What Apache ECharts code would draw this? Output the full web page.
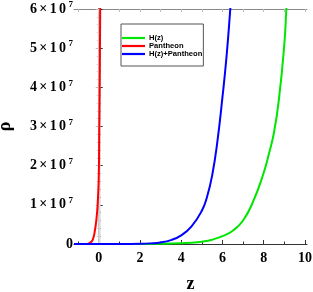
<!DOCTYPE html>
<html><head><meta charset="utf-8">
<script src="https://cdn.jsdelivr.net/npm/echarts@6/dist/echarts.min.js"></script>
<style>html,body{margin:0;padding:0;background:#fff}#c{width:313px;height:292px}</style>
</head><body><div id="c"></div>
<script>
// data (rho in units of 1e7)
var zGreen   = [-1.2, 2.0, 3.0, 4.0, 4.5, 5.0, 5.5, 6.0, 6.5, 7.0, 7.5, 8.0, 8.25, 8.5, 8.75, 9.0, 9.1, 9.25];
var rhoGreen = [0, 0.001, 0.005, 0.018, 0.033, 0.06, 0.11, 0.2, 0.34, 0.6, 1.1, 1.82, 2.3, 2.85, 3.75, 5.1, 6.0, 7.2];
var zRed     = [-1.2, -0.6, -0.5, -0.4, -0.3, -0.2, -0.1, -0.05, 0.0, 0.025, 0.05, 0.07, 0.09];
var rhoRed   = [0, 0, 0.01, 0.04, 0.1, 0.3, 0.7, 1.05, 1.7, 2.9, 4.3, 6.0, 7.6];
var zBlue    = [-1.2, 1.0, 2.0, 2.5, 3.0, 3.5, 4.0, 4.5, 5.0, 5.25, 5.5, 5.75, 6.0, 6.2, 6.38, 6.55];
var rhoBlue  = [0, 0.001, 0.006, 0.016, 0.04, 0.1, 0.22, 0.45, 0.85, 1.2, 1.75, 2.6, 3.75, 4.8, 6.0, 7.2];
var seriesNames = ['H(z)', 'Pantheon', 'H(z)+Pantheon'];
var refLineZ = 0.03;
var xMajorTicks = [0, 2, 4, 6, 8, 10];
var xMinorTicks = [-1, 1, 3, 5, 7, 9];

function pairs(xs, ys){ return xs.map(function(x,i){ return [x, ys[i]]; }); }

var labelRich = {
  d: {fontFamily:'Liberation Serif', fontWeight:'bold', fontSize:14, color:'#000', padding:[0,2.4,0,0]},
  x: {fontFamily:'Liberation Serif', fontWeight:'bold', fontSize:14, color:'#000', padding:[0,2.4,0,0]},
  s: {fontFamily:'Liberation Serif', fontWeight:'bold', fontSize:9, color:'#000', padding:[0,0,8,0]},
  z: {fontFamily:'Liberation Serif', fontWeight:'bold', fontSize:14, color:'#000'}
};

var chart = echarts.init(document.getElementById('c'));
var frameDark = '#333', frameLight = '#888';
chart.setOption({
  animation: false,
  grid: {left:74, right:6, top:9, bottom:48, containLabel:false, outerBoundsMode:'none'},
  legend: {
    data: seriesNames, orient:'vertical', left:121, top:24,
    padding:[10,1,8,1], itemGap:0, itemWidth:23, itemHeight:2.2, icon:'rect',
    borderColor:'#555', borderWidth:1, backgroundColor:'#fff',
    textStyle:{fontFamily:'Liberation Sans', fontWeight:'bold', fontSize:7.6, lineHeight:7.8, color:'#000', padding:[0,0,0,-1]}
  },
  xAxis: [
    {type:'value', min:-1.2, max:10.1, position:'bottom',
     axisLine:{show:true, lineStyle:{color:frameDark, width:1}},
     axisTick:{show:true, inside:true, length:4, customValues:xMajorTicks, lineStyle:{color:frameDark}},
     axisLabel:{show:true, customValues:xMajorTicks, margin:7, fontFamily:'Liberation Serif', fontWeight:'bold', fontSize:14, color:'#000'},
     splitLine:{show:false},
     name:'z', nameLocation:'middle', nameGap:31,
     nameTextStyle:{fontFamily:'Liberation Serif', fontWeight:'bold', fontSize:18, color:'#000'}},
    {type:'value', min:-1.2, max:10.1, position:'bottom', gridIndex:0,
     axisLine:{show:false}, axisLabel:{show:false}, splitLine:{show:false},
     axisTick:{show:true, inside:true, length:2.5, customValues:xMinorTicks, lineStyle:{color:frameDark}}},
    {type:'value', min:-1.2, max:10.1, position:'top',
     axisLine:{show:true, lineStyle:{color:frameLight, width:1}},
     axisTick:{show:true, inside:true, length:3, customValues:xMajorTicks.concat(xMinorTicks), lineStyle:{color:'#bbb'}},
     axisLabel:{show:false}, splitLine:{show:false}}
  ],
  yAxis: [
    {type:'value', min:0, max:6, interval:1, position:'left',
     axisLine:{show:true, lineStyle:{color:frameDark, width:1}},
     axisTick:{show:true, inside:true, length:4, lineStyle:{color:frameDark}},
     minorTick:{show:true, splitNumber:5, length:2, lineStyle:{color:frameDark}},
     splitLine:{show:false},
     axisLabel:{margin:1, formatter:function(v){
        if (v === 0) return '{z|0}';
        return '{d|' + v + '}{x|×}{d|1}{d|0}{s|7}';
     }, rich: labelRich},
     name:'ρ', nameLocation:'middle', nameGap:60, nameRotate:90,
     nameTextStyle:{fontFamily:'Liberation Serif', fontWeight:'bold', fontSize:18, color:'#000'}},
    {type:'value', min:0, max:6, interval:1, position:'right',
     axisLine:{show:true, lineStyle:{color:frameDark, width:1}},
     axisTick:{show:true, inside:true, length:3, lineStyle:{color:'#bbb'}},
     minorTick:{show:true, splitNumber:5, length:2, lineStyle:{color:'#ccc'}},
     axisLabel:{show:false}, splitLine:{show:false}}
  ],
  series: [
    {name:'ref', type:'line', data:[[refLineZ,0],[refLineZ,6]], symbol:'none', silent:true,
     lineStyle:{color:'#d9d9d9', width:2.5}, z:1},
    {name:seriesNames[0], type:'line', data:pairs(zGreen, rhoGreen), symbol:'none', smooth:0.5,
     lineStyle:{color:'#00e600', width:2}, itemStyle:{color:'#00e600'}, z:2},
    {name:seriesNames[1], type:'line', data:pairs(zRed, rhoRed), symbol:'none', smooth:0.5,
     lineStyle:{color:'#ff0000', width:2}, itemStyle:{color:'#ff0000'}, z:3},
    {name:seriesNames[2], type:'line', data:pairs(zBlue, rhoBlue), symbol:'none', smooth:0.5,
     lineStyle:{color:'#0000ff', width:2}, itemStyle:{color:'#0000ff'}, z:4}
  ]
});
</script></body></html>
